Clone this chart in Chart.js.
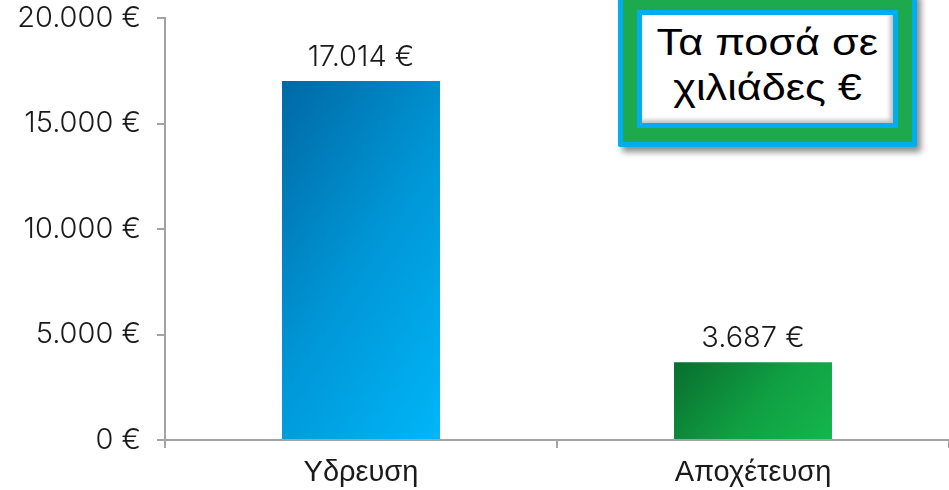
<!DOCTYPE html>
<html><head><meta charset="utf-8">
<script src="https://cdn.jsdelivr.net/npm/chart.js@4"></script>
<style>
html,body{margin:0;padding:0;background:#fff;overflow:hidden}
#wrap{position:relative;width:949px;height:490px}
#box{position:absolute;left:618px;top:-9px;width:299px;height:156px;box-sizing:border-box;border:5px solid #00AEEF;background:#1DAA4E;padding:14px;box-shadow:4px 5px 6px rgba(0,0,0,0.45);border-radius:2px}
#inner{box-sizing:border-box;width:100%;height:100%;border:5px solid #00AEEF;background:#fff;display:flex;flex-direction:column;justify-content:center;align-items:center;font-family:'Liberation Sans',Arial,sans-serif;font-size:36px;color:#000;line-height:45px;box-shadow:inset -3px -3px 4px rgba(0,0,0,0.25);padding-bottom:8px}
#inner div{transform:scaleX(1.2);white-space:nowrap}
</style></head>
<body>
<div id="wrap">
<canvas id="c" width="949" height="490"></canvas>
<div id="box"><div id="inner"><div id="l1"></div><div id="l2"></div></div></div>
</div>
<script>
const categories = ['Υδρευση', 'Αποχέτευση'];
const values = [17014, 3687];
const yTicks = [0, 5000, 10000, 15000, 20000];
const boxLines = ['Τα ποσά σε', 'χιλιάδες €'];

document.getElementById('l1').textContent = boxLines[0];
document.getElementById('l2').textContent = boxLines[1];

function fmt(v){ return String(v).replace(/\B(?=(\d{3})+(?!\d))/g, '.') + ' €'; }

const palettes = [
  {a:0.4, b:0.6, stops:[[0,'#0069A4'],[0.5,'#0096D6'],[1,'#00B6F8']], fallback:'#0096D6'},
  {a:0.7, b:0.3, stops:[[0,'#096E2E'],[0.55,'#10A043'],[1,'#14B64D']], fallback:'#10A043'}
];
const BAR_PCT = 0.403;

function barFill(ctx){
  const chart = ctx.chart;
  const i = ctx.dataIndex;
  const p = palettes[i];
  if (!chart.chartArea || !chart.scales.x || !chart.scales.y) return p.fallback;
  const xs = chart.scales.x, ys = chart.scales.y;
  const cx = xs.getPixelForValue(i);
  const w = xs.width / categories.length * BAR_PCT;
  const top = ys.getPixelForValue(values[i]);
  const base = ys.getPixelForValue(0);
  const h = Math.max(1, base - top);
  const x0 = cx - w/2, y0 = top;
  const gx = p.a / w, gy = p.b / h;
  const n2 = gx*gx + gy*gy;
  const g = chart.ctx.createLinearGradient(x0, y0, x0 + gx/n2, y0 + gy/n2);
  p.stops.forEach(s => g.addColorStop(s[0], s[1]));
  return g;
}

const labelPlugin = {
  id: 'valueLabels',
  afterDatasetsDraw(chart){
    const c = chart.ctx;
    const meta = chart.getDatasetMeta(0);
    c.save();
    c.font = '300 29px Inter, "Noto Sans", sans-serif';
    c.fillStyle = '#1a1a1a';
    c.textAlign = 'center';
    c.textBaseline = 'middle';
    meta.data.forEach((bar, i) => { c.fillText(fmt(values[i]), bar.x, bar.y - 24); });
    c.restore();
  }
};

new Chart(document.getElementById('c'), {
  type: 'bar',
  data: {
    labels: categories,
    datasets: [{ data: values, backgroundColor: barFill, borderWidth: 0, barPercentage: BAR_PCT, categoryPercentage: 1 }]
  },
  options: {
    responsive: false,
    animation: false,
    layout: { padding: { top: 18, right: 0, left: 0, bottom: 0 } },
    plugins: { legend: { display: false }, tooltip: { enabled: false } },
    scales: {
      x: {
        offset: true,
        grid: { display: true, drawOnChartArea: false, drawTicks: true, tickLength: 8, color: '#A3A3A3', lineWidth: 2, offset: true },
        border: { color: '#A3A3A3', width: 2 },
        ticks: { font: { family: '"Liberation Sans", Arial, sans-serif', size: 29 }, color: '#1a1a1a', padding: 8 },
        afterFit: s => { s.height = 50; s.paddingLeft = 0; s.paddingRight = 0; }
      },
      y: {
        min: 0, max: 20000,
        afterBuildTicks: s => { s.ticks = yTicks.map(v => ({ value: v })); },
        grid: { drawOnChartArea: false, drawTicks: true, tickLength: 8, color: '#A3A3A3', lineWidth: 2 },
        border: { color: '#A3A3A3', width: 2 },
        ticks: { callback: v => fmt(v), font: { family: 'Inter, "Noto Sans", sans-serif', size: 29, weight: 300 }, color: '#1a1a1a', padding: 16 },
        afterFit: s => { s.width = 165; s.paddingTop = 0; s.paddingBottom = 0; }
      }
    }
  },
  plugins: [labelPlugin]
});
</script>
</body></html>
